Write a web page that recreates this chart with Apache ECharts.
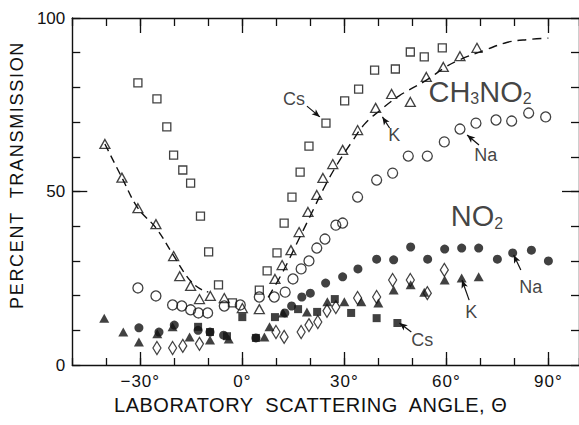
<!DOCTYPE html>
<html><head><meta charset="utf-8">
<script src="https://cdn.jsdelivr.net/npm/echarts@6/dist/echarts.min.js"></script>
<style>html,body{margin:0;padding:0;background:#fff}#chart{width:579px;height:425px}</style>
</head><body><div id="chart"></div>
<script>
// ---- data (angle in degrees, percent transmission) ----
var xLabelValues = [-30, 0, 30, 60, 90];
var yLabelValues = [0, 50, 100];
var xTitle = 'LABORATORY  SCATTERING  ANGLE, \u0398';
var yTitle = 'PERCENT  TRANSMISSION';

// CH3NO2 target (open symbols)
var ch3CsAngle = [-30.7,-25.1,-22.2,-20.2,-17.5,-15.2,-12.3,-9.9,-7.0,-2.9,5.0,7.3,10.2,12.3,14.6,17.0,19.6,24.6,30.1,34.2,38.9,45.0,49.4,53.5,58.8];
var ch3CsValue = [81.3,76.7,68.6,60.5,56.2,52.4,42.9,32.6,23.1,17.9,21.6,27.1,32.3,40.9,48.4,55.6,63.1,69.7,76.1,79.5,85.0,85.3,90.2,88.8,91.4];

var ch3KAngle = [-40.4,-35.4,-30.7,-25.4,-20.2,-18.4,-15.2,-12.6,-9.4,-5.3,0,5.0,9.6,11.7,14.3,16.7,19.3,21.9,23.7,26.6,29.5,33.9,39.2,43.9,49.4,54.1,59.1,64.0,69.0];
var ch3KValue = [63.7,54.0,45.2,40.6,31.4,25.6,22.8,19.0,19.9,19.3,16.4,16.1,24.8,28.8,33.1,38.3,44.1,49.0,53.9,57.9,62.0,67.7,74.1,78.1,75.8,83.0,85.9,89.0,91.4];

var ch3NaAngle = [-30.7,-25.4,-20.5,-17.8,-15.2,-12.9,-10.2,-5.3,-0.6,5.0,9.4,12.6,14.9,17.3,19.6,21.9,24.3,27.5,29.5,33.9,39.5,44.2,48.8,54.4,59.4,64.0,68.7,74.6,79.2,84.2,89.2];
var ch3NaValue = [22.2,19.9,17.3,17.0,15.9,15.0,15.0,17.0,17.3,19.6,19.6,21.0,24.8,27.7,30.0,33.7,36.3,40.3,40.9,48.4,53.3,55.3,60.2,60.2,64.3,68.0,69.7,70.6,70.3,72.6,71.5];

// NO2 target (filled symbols + open diamonds)
var no2NaAngle = [-30.4,-24.5,-20.0,-13.0,-9.5,-5.5,4.0,12.5,14.5,17.5,20.0,24.5,29.5,34.0,39.5,44.5,49.5,54.5,59.5,64.5,69.5,75.0,79.5,85.0,90.0];
var no2NaValue = [10.7,9.5,11.5,10.0,9.5,8.6,7.8,15.0,17.0,19.6,20.7,23.6,25.4,27.7,30.5,30.3,34.0,30.5,33.4,33.7,33.7,30.5,32.3,33.1,30.0];

var no2KAngle = [-40.6,-35.0,-30.4,-25.0,-20.5,-15.5,-9.5,-4.0,6.5,8.0,12.0,19.0,25.0,30.0,35.0,40.0,44.5,49.5,53.5,59.5,64.5,69.5];
var no2KValue = [13.5,9.5,6.6,9.0,11.0,8.1,7.2,7.5,8.1,11.0,15.0,15.3,18.2,18.2,18.2,17.9,21.6,23.1,21.0,24.5,25.1,25.4];

var no2CsAngle = [-13.0,-9.5,-4.5,0.0,4.0,9.6,16.4,22.0,27.2,32.0,39.5,45.6];
var no2CsValue = [11.0,9.5,8.3,13.8,7.8,13.8,16.1,15.3,19.0,15.0,13.5,12.1];

var no2DiaAngle = [-25.1,-20.5,-17.5,-12.6,9.9,12.3,17.3,19.6,22.2,24.9,27.5,33.9,39.5,44.2,49.4,54.4,59.4];
var no2DiaValue = [4.9,4.9,5.5,6.1,9.5,8.1,9.5,11.5,12.4,15.6,16.7,19.3,19.6,24.5,24.5,20.7,27.4];

// dashed guide curves (drawn through K / CH3NO2)
var fitLeftAngle = [-40.4,-35.4,-30.7,-25.4,-20.2,-17.0,-15.0,-12.5,-10.0];
var fitLeftValue = [63.7,54.0,45.2,39.5,31.5,26.5,24.0,22.0,21.0];
var fitRightAngle = [7.6,12,16,20,24,28,32,36,40,46,54,60,64,72,78,84,90];
var fitRightValue = [19.5,27,35,43,51,58,64,69.5,73,77.5,82,86,88,91,93,93.8,94.2];

// annotation labels: text, position, arrow start, arrow end (data coordinates)
var noteText  = ['Cs','K','Na','Na','K','Cs'];
var notePos   = [[15.2,76.7],[44.7,66.3],[71.6,60.5],[84.8,22.5],[67.3,15.3],[52.9,7.2]];
var arrowFrom = [[19.0,74.6],[43.3,68.3],[69.6,63.4],[81.9,27.4],[66.7,18.7],[49.7,9.5]];
var arrowTo   = [[22.8,71.5],[41.2,71.5],[66.1,66.3],[79.8,31.7],[64.6,24.5],[46.2,12.1]];
var formulaPos = [[69.9,78.7],[69.0,42.9]];

function pairs(a, b) { return a.map(function (v, i) { return [v, b[i]]; }); }

var FONT = 'Liberation Sans';
var INK = '#111';
var chart = echarts.init(document.getElementById('chart'), null, {renderer: 'svg'});

function tickAxis(pos, isX, len, custom, showLine) {
  var ax = {
    type: 'value', position: pos,
    min: isX ? -50 : 0, max: isX ? 99 : 100,
    axisLine: {show: showLine, onZero: false, lineStyle: {color: INK, width: 1.4}},
    axisTick: {show: true, inside: true, length: len, lineStyle: {color: INK, width: 1.3}},
    axisLabel: {show: false},
    splitLine: {show: false}
  };
  if (custom) { ax.axisTick.customValues = custom; } else { ax.interval = 10; }
  return ax;
}

var xBottom = tickAxis('bottom', true, 7, null, true);
xBottom.axisLabel = {
  show: true, customValues: xLabelValues, margin: 8,
  fontSize: 17, fontFamily: FONT, color: INK,
  formatter: function (v) { return (v < 0 ? '\u2212' + Math.abs(v) : v) + '\u00b0'; }
};
xBottom.name = xTitle;
xBottom.nameLocation = 'middle';
xBottom.nameGap = 29;
xBottom.nameTextStyle = {fontSize: 20, fontFamily: FONT, color: INK, padding: [0, 30, 0, 0]};

var yLeft = tickAxis('left', false, 8, null, true);
yLeft.axisLabel = {show: true, customValues: yLabelValues, margin: 7, fontSize: 17, fontFamily: FONT, color: INK};
yLeft.name = yTitle;
yLeft.nameLocation = 'middle';
yLeft.nameRotate = 90;
yLeft.nameGap = 33;
yLeft.nameTextStyle = {fontSize: 18, fontFamily: FONT, color: INK, padding: [0, 0, 0, 33]};

function openSym() { return {color: 'rgba(0,0,0,0)', borderColor: INK, borderWidth: 1.3}; }

var option = {
  animation: false,
  backgroundColor: '#fff',
  grid: {left: 70, top: 18, width: 510, height: 347, containLabel: false},
  xAxis: [
    xBottom,
    tickAxis('bottom', true, 13, xLabelValues, false),
    tickAxis('top', true, 8, null, true),
    tickAxis('top', true, 15, xLabelValues, false)
  ],
  yAxis: [
    yLeft,
    tickAxis('left', false, 15, [50], false),
    tickAxis('right', false, 8, null, true),
    tickAxis('right', false, 17, [50], false)
  ],
  series: [
    {name: 'fit left', type: 'line', smooth: 0.4, showSymbol: false, silent: true,
     data: pairs(fitLeftAngle, fitLeftValue), lineStyle: {color: INK, width: 1.4, type: [8, 5]}},
    {name: 'fit right', type: 'line', smooth: 0.4, showSymbol: false, silent: true,
     data: pairs(fitRightAngle, fitRightValue), lineStyle: {color: INK, width: 1.4, type: [9, 6]}},
    {name: 'CH3NO2 Cs', type: 'scatter', symbol: 'rect', symbolSize: 8,
     data: pairs(ch3CsAngle, ch3CsValue), itemStyle: openSym()},
    {name: 'CH3NO2 K', type: 'scatter', symbol: 'triangle', symbolSize: [10, 9],
     data: pairs(ch3KAngle, ch3KValue), itemStyle: openSym()},
    {name: 'CH3NO2 Na', type: 'scatter', symbol: 'circle', symbolSize: 10,
     data: pairs(ch3NaAngle, ch3NaValue), itemStyle: openSym()},
    {name: 'NO2 other', type: 'scatter', symbol: 'diamond', symbolSize: [8, 13],
     data: pairs(no2DiaAngle, no2DiaValue), itemStyle: openSym()},
    {name: 'NO2 Na', type: 'scatter', symbol: 'circle', symbolSize: 9,
     data: pairs(no2NaAngle, no2NaValue), itemStyle: {color: INK}},
    {name: 'NO2 K', type: 'scatter', symbol: 'triangle', symbolSize: [10, 9],
     data: pairs(no2KAngle, no2KValue), itemStyle: {color: INK}},
    {name: 'NO2 Cs', type: 'scatter', symbol: 'rect', symbolSize: 8,
     data: pairs(no2CsAngle, no2CsValue), itemStyle: {color: INK}},
    {name: 'notes', type: 'scatter', symbolSize: 0, silent: true,
     data: noteText.map(function (t, i) {
       return {value: notePos[i], label: {formatter: t}};
     }).concat([
       {value: formulaPos[0], label: {formatter: '{a|CH}{s|3}{a|NO}{s|2}'}},
       {value: formulaPos[1], label: {formatter: '{a|NO}{s|2}'}}
     ]),
     label: {show: true, position: 'inside', fontSize: 18, fontFamily: FONT, color: INK,
       rich: {
         a: {fontSize: 29, fontFamily: FONT, color: INK, lineHeight: 30},
         s: {fontSize: 16, fontFamily: FONT, color: INK, lineHeight: 8, verticalAlign: 'bottom'}
       }},
     markLine: {
       silent: true, symbol: ['none', 'arrow'], symbolSize: [5, 8], animation: false,
       label: {show: false},
       lineStyle: {color: INK, width: 1.2, type: 'solid'},
       data: arrowFrom.map(function (p, i) { return [{coord: p}, {coord: arrowTo[i]}]; })
     }}
  ]
};
chart.setOption(option);

function spaceText() {
  var texts = document.querySelectorAll('#chart text');
  texts.forEach(function (t) {
    var s = t.textContent || '';
    if (s.indexOf('PERCENT') === 0) t.style.letterSpacing = '1.7px';
    else if (s.indexOf('LABORATORY') === 0) t.style.letterSpacing = '0.5px';
    else if (/\u00b0$/.test(s)) t.style.letterSpacing = '1px';
  });
}
spaceText();
chart.on('finished', spaceText);
setTimeout(spaceText, 0);
setTimeout(spaceText, 50);
</script></body></html>
